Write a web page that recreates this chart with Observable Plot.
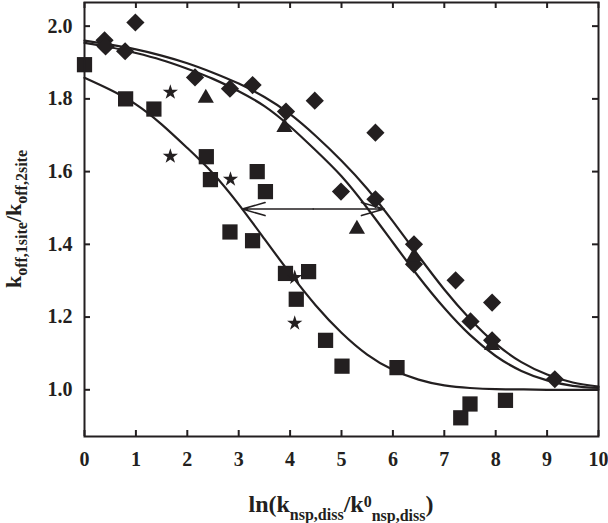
<!DOCTYPE html>
<html>
<head>
<meta charset="utf-8">
<script src="https://cdn.jsdelivr.net/npm/d3@7"></script>
<script src="https://cdn.jsdelivr.net/npm/@observablehq/plot@0.6"></script>
<style>
  html, body { margin: 0; padding: 0; background: #ffffff; }
  #chart { width: 608px; height: 523px; }
  #chart svg { display: block; }
</style>
</head>
<body>
<div id="chart"></div>
<script>
const ink = "#231f20";

// ---- data ----
const squareX = [0.00, 0.80, 1.35, 2.37, 2.45, 2.83, 3.27, 3.36, 3.52, 3.91, 4.12, 4.36, 4.69, 5.01, 6.08, 7.32, 7.50, 8.19];
const squareY = [1.894, 1.800, 1.772, 1.641, 1.578, 1.434, 1.410, 1.600, 1.545, 1.320, 1.249, 1.325, 1.136, 1.065, 1.061, 0.923, 0.961, 0.971];

const starX = [1.67, 1.67, 2.84, 4.09, 4.09];
const starY = [1.818, 1.642, 1.579, 1.309, 1.183];

const triangleX = [2.36, 3.89, 5.30, 6.41, 7.93];
const triangleY = [1.802, 1.722, 1.442, 1.366, 1.122];

const diamondX = [0.39, 0.41, 0.79, 0.99, 2.15, 2.83, 3.27, 3.92, 4.48, 5.66, 4.99, 5.66, 6.41, 6.41, 7.22, 7.93, 7.51, 7.93, 9.15];
const diamondY = [1.961, 1.944, 1.931, 2.010, 1.859, 1.828, 1.838, 1.765, 1.795, 1.707, 1.545, 1.524, 1.400, 1.345, 1.301, 1.240, 1.188, 1.136, 1.029];

// fitted curves
const curveX  = [0, 0.5, 1, 1.5, 2, 2.5, 3, 3.5, 4, 4.5, 5, 5.5, 6, 6.5, 7, 7.5, 8, 8.5, 9, 9.5, 10];
const curve1Y = [1.858, 1.825, 1.785, 1.730, 1.665, 1.595, 1.510, 1.415, 1.320, 1.232, 1.157, 1.097, 1.055, 1.028, 1.012, 1.005, 1.002, 1.001, 1.000, 1.000, 1.000];
const curve2Y = [1.954, 1.942, 1.926, 1.907, 1.883, 1.855, 1.821, 1.780, 1.724, 1.658, 1.587, 1.500, 1.405, 1.311, 1.225, 1.151, 1.093, 1.052, 1.026, 1.011, 1.005];
const curve3Y = [1.960, 1.949, 1.936, 1.919, 1.898, 1.872, 1.842, 1.805, 1.758, 1.698, 1.630, 1.553, 1.463, 1.368, 1.276, 1.195, 1.127, 1.076, 1.042, 1.020, 1.009];

// double arrow between the half points
const arrowY = 1.497;
const arrowLeft = 3.07;
const arrowRight = 5.83;
const arrowMid = 4.45;

const xTicks = [0, 1, 2, 3, 4, 5, 6, 7, 8, 9, 10];
const yTicks = [1.0, 1.2, 1.4, 1.6, 1.8, 2.0];

// ---- build ----
const pts = (xs, ys) => xs.map((x, i) => ({x, y: ys[i]}));
const arrows = [
  {x1: arrowMid, x2: arrowLeft, y1: arrowY, y2: arrowY},
  {x1: arrowMid, x2: arrowRight, y1: arrowY, y2: arrowY}
];

const W = 608, H = 523, mL = 84, mR = 10, mT = 2, mB = 87;
const plotW = W - mL - mR, plotH = H - mT - mB, tick = 6;

const plot = Plot.plot({
  width: W, height: H,
  marginLeft: mL, marginRight: mR, marginTop: mT, marginBottom: mB,
  x: {domain: [0, 10]},
  y: {domain: [0.8716, 2.065]},
  style: {
    fontFamily: "'Liberation Serif', 'Times New Roman', serif",
    fontSize: "20px",
    fontWeight: "bold",
    color: ink,
    background: "#ffffff"
  },
  marks: [
    Plot.axisX({ticks: xTicks, tickSize: 0, tickPadding: 15, tickFormat: d => String(d), label: null, fill: ink}),
    Plot.axisY({ticks: yTicks, tickSize: 0, tickPadding: 12, tickFormat: d3.format(".1f"), label: null, fill: ink}),
    // inward ticks on all four sides
    Plot.ruleX(xTicks, {x: d => d, insetTop: plotH - tick, stroke: ink, strokeWidth: 2}),
    Plot.ruleX(xTicks, {x: d => d, insetBottom: plotH - tick, stroke: ink, strokeWidth: 2}),
    Plot.ruleY(yTicks, {y: d => d, insetRight: plotW - tick, stroke: ink, strokeWidth: 2}),
    Plot.ruleY(yTicks, {y: d => d, insetLeft: plotW - tick, stroke: ink, strokeWidth: 2}),
    Plot.line(pts(curveX, curve1Y), {x: "x", y: "y", curve: "natural", stroke: ink, strokeWidth: 2.2}),
    Plot.line(pts(curveX, curve2Y), {x: "x", y: "y", curve: "natural", stroke: ink, strokeWidth: 2.2}),
    Plot.line(pts(curveX, curve3Y), {x: "x", y: "y", curve: "natural", stroke: ink, strokeWidth: 2.2}),
    Plot.arrow(arrows, {x1: "x1", y1: "y1", x2: "x2", y2: "y2", stroke: ink, strokeWidth: 1.6, headLength: 24, headAngle: 32}),
    Plot.dot(pts(squareX, squareY), {x: "x", y: "y", symbol: "square", r: 8.6, fill: ink}),
    Plot.dot(pts(diamondX, diamondY), {x: "x", y: "y", symbol: "diamond2", r: 8.2, fill: ink}),
    Plot.dot(pts(triangleX, triangleY), {x: "x", y: "y", symbol: "triangle", r: 6.0, fill: ink}),
    Plot.dot(pts(starX, starY), {x: "x", y: "y", symbol: "star", r: 4.8, fill: ink}),
    Plot.frame({stroke: ink, strokeWidth: 2})
  ]
});

// axis titles with sub/superscripts
const svg = d3.select(plot);
const cx = (mL + (W - mR)) / 2;
const cy = (mT + (H - mB)) / 2;

const xl = svg.append("text")
  .attr("x", cx).attr("y", 512)
  .attr("text-anchor", "middle")
  .attr("fill", ink)
  .style("font-family", "'Liberation Serif', 'Times New Roman', serif")
  .style("font-weight", "bold")
  .style("font-size", "24px");
xl.append("tspan").text("ln(k");
xl.append("tspan").attr("dy", 8).style("font-size", "16px").text("nsp,diss");
xl.append("tspan").attr("dy", -8).text("/k");
xl.append("tspan").attr("dy", -5).style("font-size", "16px").text("0");
xl.append("tspan").attr("dy", 14).style("font-size", "16px").text("nsp,diss");
xl.append("tspan").attr("dy", -9).text(")");

const yl = svg.append("text")
  .attr("transform", `translate(21,${cy}) rotate(-90)`)
  .attr("text-anchor", "middle")
  .attr("fill", ink)
  .style("font-family", "'Liberation Serif', 'Times New Roman', serif")
  .style("font-weight", "bold")
  .style("font-size", "22px");
yl.append("tspan").text("k");
yl.append("tspan").attr("dy", 6).style("font-size", "16px").text("off,1site");
yl.append("tspan").attr("dy", -6).text("/k");
yl.append("tspan").attr("dy", 6).style("font-size", "16px").text("off,2site");

document.getElementById("chart").appendChild(plot);
</script>
</body>
</html>
